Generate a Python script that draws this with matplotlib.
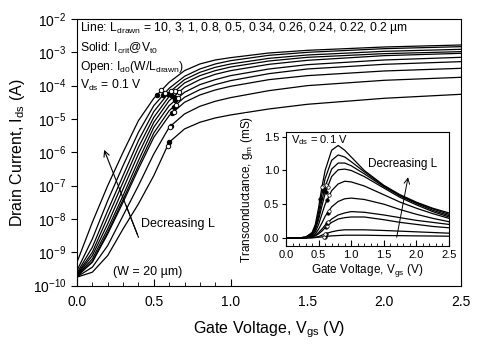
import numpy as np
import matplotlib.pyplot as plt
from matplotlib.patches import Rectangle

plt.rcParams['font.family'] = ['Liberation Sans', 'DejaVu Sans']
plt.rcParams['mathtext.fontset'] = 'custom'
plt.rcParams['mathtext.rm'] = 'Liberation Sans'
plt.rcParams['mathtext.it'] = 'Liberation Sans'
plt.rcParams['mathtext.bf'] = 'Liberation Sans:bold'

# drawn gate lengths (um), longest first
lengths = [10, 3, 1, 0.8, 0.5, 0.34, 0.26, 0.24, 0.22, 0.2]

# Id-Vgs, log10(Ids / A)
vgs = [0.0, 0.1, 0.2, 0.3, 0.4, 0.5, 0.6, 0.7, 0.8, 0.9, 1.0, 1.25, 1.5, 2.0, 2.5]
logid_10 = [-9.75, -9.60, -9.10, -8.30, -7.55, -6.70, -5.70, -5.30, -5.10, -4.97, -4.88, -4.70, -4.56, -4.38, -4.26]
logid_3 = [-9.74, -9.45, -8.80, -7.90, -7.00, -6.05, -5.25, -4.85, -4.62, -4.47, -4.36, -4.15, -4.00, -3.84, -3.75]
logid_1 = [-9.72, -9.30, -8.45, -7.50, -6.50, -5.55, -4.90, -4.50, -4.28, -4.13, -4.02, -3.82, -3.70, -3.56, -3.48]
logid_08 = [-9.72, -9.28, -8.40, -7.42, -6.40, -5.42, -4.75, -4.35, -4.12, -3.97, -3.85, -3.64, -3.50, -3.36, -3.28]
logid_05 = [-9.70, -9.20, -8.30, -7.30, -6.25, -5.25, -4.60, -4.20, -3.97, -3.82, -3.70, -3.50, -3.37, -3.23, -3.15]
logid_034 = [-9.68, -9.10, -8.15, -7.10, -6.05, -5.10, -4.45, -4.05, -3.82, -3.66, -3.55, -3.36, -3.24, -3.10, -3.03]
logid_026 = [-9.66, -9.00, -7.95, -6.90, -5.85, -4.95, -4.32, -3.92, -3.70, -3.55, -3.44, -3.26, -3.15, -3.04, -2.98]
logid_024 = [-9.62, -8.85, -7.75, -6.70, -5.65, -4.78, -4.20, -3.82, -3.60, -3.45, -3.35, -3.18, -3.08, -2.97, -2.91]
logid_022 = [-9.55, -8.60, -7.45, -6.40, -5.40, -4.60, -4.08, -3.72, -3.50, -3.35, -3.25, -3.09, -3.00, -2.89, -2.83]
logid_02 = [-9.30, -8.10, -7.00, -6.00, -5.05, -4.38, -3.90, -3.55, -3.35, -3.23, -3.16, -3.02, -2.94, -2.84, -2.78]
logid = [logid_10, logid_3, logid_1, logid_08, logid_05, logid_034, logid_026, logid_024, logid_022, logid_02]

# marker gate voltages: solid = Icrit @ Vt0, open = Id0 (W/L)
vt0 = [0.60, 0.61, 0.62, 0.63, 0.64, 0.63, 0.61, 0.59, 0.56, 0.52]
v_open = [0.59, 0.605, 0.63, 0.645, 0.66, 0.665, 0.64, 0.61, 0.575, 0.55]

# transconductance (mS)
vg_gm = [0.0, 0.2, 0.3, 0.4, 0.45, 0.5, 0.55, 0.6, 0.7, 0.8, 0.9, 1.0, 1.2, 1.5, 1.75, 2.0, 2.25, 2.5]
gm_10 = [0, 0, 0, 0.0, 0.005, 0.01, 0.015, 0.02, 0.03, 0.035, 0.04, 0.04, 0.04, 0.035, 0.033, 0.03, 0.028, 0.025]
gm_3 = [0, 0, 0, 0.005, 0.01, 0.02, 0.04, 0.06, 0.09, 0.11, 0.12, 0.12, 0.12, 0.11, 0.10, 0.09, 0.08, 0.07]
gm_1 = [0, 0, 0, 0.015, 0.03, 0.06, 0.10, 0.15, 0.23, 0.28, 0.30, 0.31, 0.31, 0.27, 0.23, 0.20, 0.17, 0.15]
gm_08 = [0, 0, 0, 0.02, 0.04, 0.08, 0.13, 0.19, 0.28, 0.34, 0.37, 0.39, 0.38, 0.34, 0.30, 0.26, 0.23, 0.20]
gm_05 = [0, 0, 0, 0.03, 0.06, 0.13, 0.22, 0.32, 0.46, 0.54, 0.58, 0.59, 0.57, 0.50, 0.42, 0.35, 0.29, 0.24]
gm_034 = [0, 0, 0.01, 0.04, 0.09, 0.20, 0.35, 0.50, 0.70, 0.80, 0.84, 0.83, 0.77, 0.64, 0.53, 0.44, 0.36, 0.29]
gm_026 = [0, 0, 0.01, 0.05, 0.12, 0.27, 0.47, 0.66, 0.91, 1.01, 1.02, 1.00, 0.91, 0.74, 0.60, 0.49, 0.39, 0.31]
gm_024 = [0, 0, 0.01, 0.06, 0.15, 0.32, 0.55, 0.76, 1.02, 1.11, 1.11, 1.07, 0.95, 0.76, 0.62, 0.51, 0.41, 0.33]
gm_022 = [0, 0, 0.01, 0.07, 0.17, 0.38, 0.65, 0.88, 1.15, 1.23, 1.20, 1.13, 0.98, 0.77, 0.63, 0.52, 0.43, 0.35]
gm_02 = [0, 0, 0.01, 0.08, 0.20, 0.45, 0.75, 1.00, 1.30, 1.37, 1.30, 1.20, 1.00, 0.78, 0.64, 0.53, 0.44, 0.37]
gm = [gm_10, gm_3, gm_1, gm_08, gm_05, gm_034, gm_026, gm_024, gm_022, gm_02]

fig = plt.figure(figsize=(4.81, 3.54), dpi=100)
ax = fig.add_axes([0.1601, 0.1935, 0.7983, 0.7528])

for i in range(len(lengths)):
    y = 10.0 ** np.array(logid[i])
    ax.plot(vgs, y, color='black', lw=0.9, zorder=1)
    ys = 10.0 ** np.interp(vt0[i], vgs, logid[i])
    yo = 10.0 ** np.interp(v_open[i], vgs, logid[i])
    ax.plot(vt0[i], ys, 'o', ms=3.2, mfc='black', mec='black', mew=0.7, zorder=1.5)
    ax.plot(v_open[i], yo, 'o', ms=3.2, mfc='white', mec='black', mew=0.7, zorder=1.5)

ax.set_yscale('log')
ax.set_xlim(0, 2.5)
ax.set_ylim(1e-10, 1e-2)
ax.set_yticks([10.0 ** k for k in range(-10, -1)])
ax.yaxis.set_minor_locator(plt.NullLocator())
ax.set_xticks(np.arange(0, 2.51, 0.5))
ax.set_xticks(np.arange(0, 2.51, 0.1), minor=True)
ax.xaxis.set_major_formatter(plt.FormatStrFormatter('%.1f'))
ax.tick_params(axis='x', which='major', direction='in', length=5, labelsize=10, pad=7)
ax.tick_params(axis='x', which='minor', direction='in', length=3)
ax.tick_params(axis='y', which='major', direction='out', length=4, labelsize=10)
ax.set_xlabel('Gate Voltage, V$_{gs}$ (V)', fontsize=11.5, labelpad=7)
ax.set_ylabel('Drain Current, I$_{ds}$ (A)', fontsize=11.5, labelpad=4)

# white backing for the inset
ax.add_patch(Rectangle((0.4375, 0.0), 0.5625, 0.647, transform=ax.transAxes,
                       facecolor='white', edgecolor='none', zorder=2))

ax.text(0.008, 0.966, 'Line: L$_{drawn}$ = 10, 3, 1, 0.8, 0.5, 0.34, 0.26, 0.24, 0.22, 0.2 \u00b5m',
        transform=ax.transAxes, fontsize=8.7, va='center', ha='left')
ax.text(0.008, 0.891, 'Solid: I$_{crit}$@V$_{t0}$', transform=ax.transAxes, fontsize=8.7, va='center')
ax.text(0.008, 0.820, 'Open: I$_{d0}$(W/L$_{drawn}$)', transform=ax.transAxes, fontsize=8.7, va='center')
ax.text(0.008, 0.750, 'V$_{ds}$ = 0.1 V', transform=ax.transAxes, fontsize=8.7, va='center')

ax.text(0.417, 10 ** -8.15, 'Decreasing L', fontsize=9, va='center', ha='left')
ax.text(0.234, 10 ** -9.6, '(W = 20 \u00b5m)', fontsize=9, va='center', ha='left')
ax.annotate('', xy=(0.17, 10 ** -5.85), xytext=(0.40, 10 ** -8.55),
            arrowprops=dict(arrowstyle='->', lw=0.8, color='black'))
ax.plot([0.40, 0.32], [10 ** -8.55, 10 ** -7.6], color='black', lw=0.8)

# inset: transconductance
axi = fig.add_axes([0.5946, 0.3051, 0.3389, 0.322])
for i in range(len(lengths)):
    axi.plot(vg_gm, gm[i], color='black', lw=0.9)
    axi.plot(vt0[i], np.interp(vt0[i], vg_gm, gm[i]), 'o', ms=2.5, mfc='black', mec='black', mew=0.5)
    axi.plot(v_open[i], np.interp(v_open[i], vg_gm, gm[i]), 'o', ms=2.5, mfc='white', mec='black', mew=0.5)
axi.set_xlim(0, 2.5)
axi.set_ylim(-0.12, 1.57)
axi.set_xticks(np.arange(0, 2.51, 0.5))
axi.set_xticks(np.arange(0, 2.51, 0.1), minor=True)
axi.set_yticks([0.0, 0.5, 1.0, 1.5])
axi.xaxis.set_major_formatter(plt.FormatStrFormatter('%.1f'))
axi.yaxis.set_major_formatter(plt.FormatStrFormatter('%.1f'))
axi.tick_params(axis='x', which='major', direction='in', length=4, labelsize=8, pad=3)
axi.tick_params(axis='x', which='minor', direction='in', length=2)
axi.tick_params(axis='y', which='major', direction='out', length=3, labelsize=8, pad=2)
axi.set_xlabel('Gate Voltage, V$_{gs}$ (V)', fontsize=8.5, labelpad=1)
axi.set_ylabel('Transconductance, g$_m$ (mS)', fontsize=8.5, labelpad=6)
axi.text(0.03, 0.93, 'V$_{ds}$ = 0.1 V', transform=axi.transAxes, fontsize=8, va='center')
axi.text(0.50, 0.72, 'Decreasing L', transform=axi.transAxes, fontsize=8.5, va='center')
axi.annotate('', xy=(1.88, 0.94), xytext=(1.69, -0.03),
             arrowprops=dict(arrowstyle='->', lw=0.7, color='black'))

fig.savefig('out.png', dpi=100)
